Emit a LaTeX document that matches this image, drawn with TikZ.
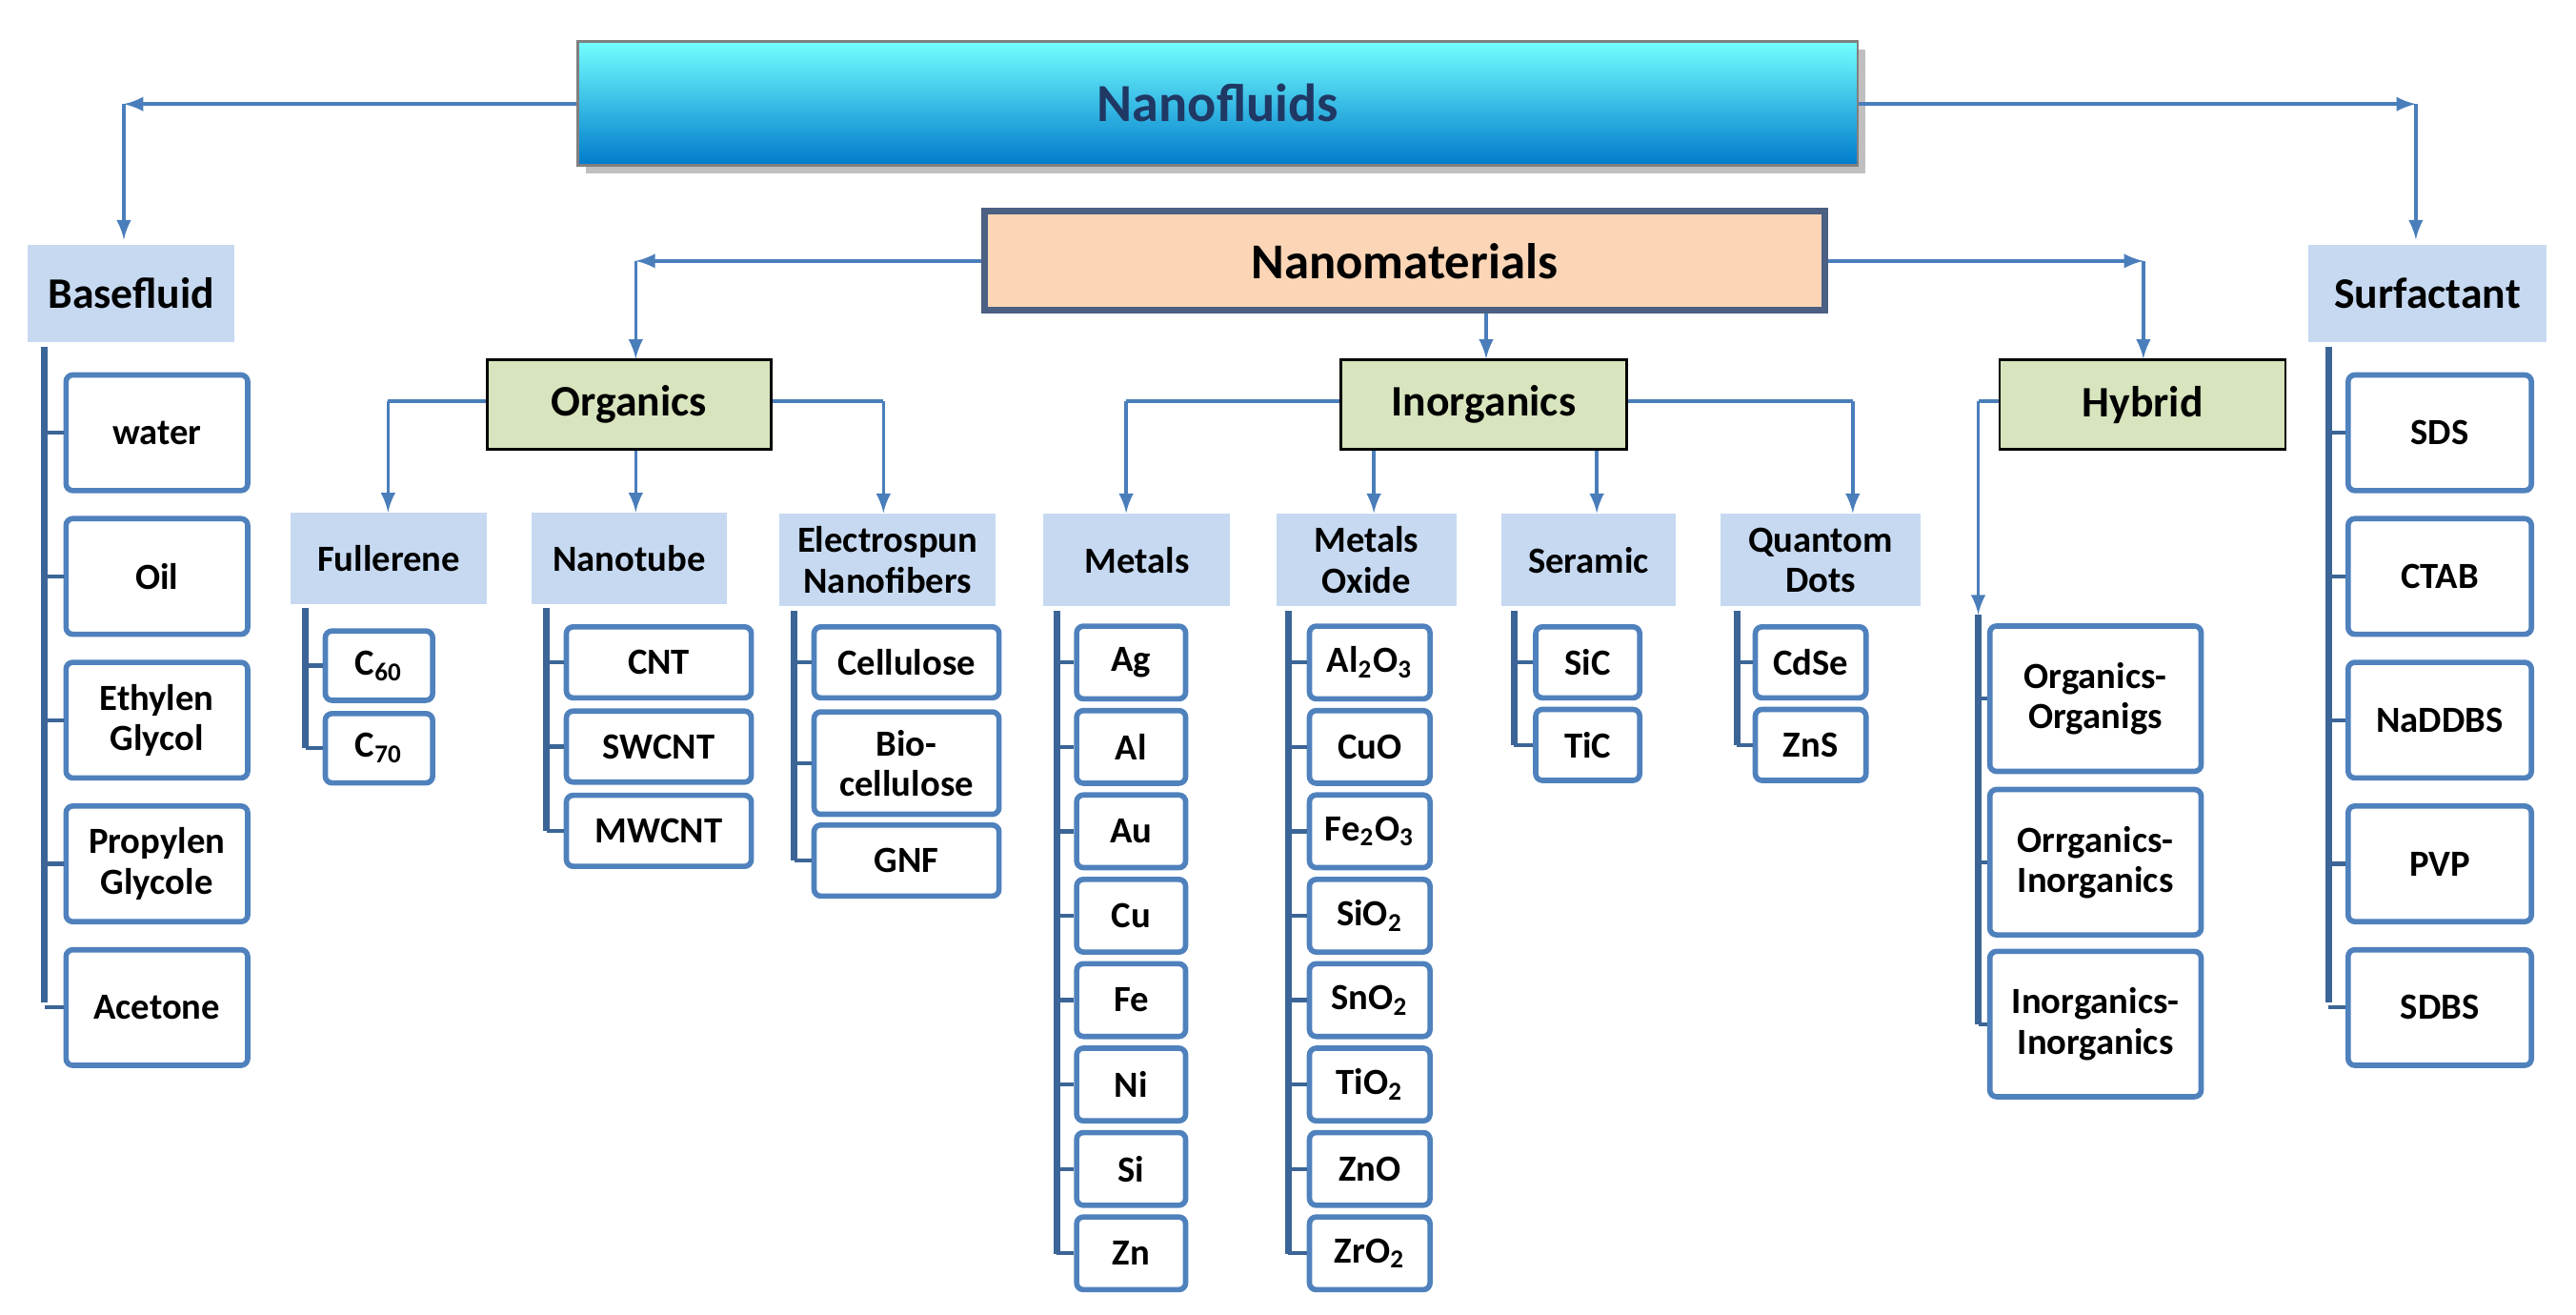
\documentclass[tikz,border=0pt]{standalone}
\usepackage{fontspec}
\setmainfont{Carlito}
\usetikzlibrary{shadows}
\definecolor{ln}{HTML}{4A7EBB}
\definecolor{bx}{HTML}{4F81BD}
\definecolor{lb}{HTML}{C6D9F1}
\definecolor{gr}{HTML}{D7E4BD}
\definecolor{pe}{HTML}{FBD5B5}
\definecolor{db}{HTML}{1F3864}
\newcommand\sbs[1]{\textsubscript{#1}}
\begin{document}
\begin{tikzpicture}[x=0.017333cm,y=-0.017333cm,font=\bfseries,
 W/.style={minimum width=#1*0.4932pt},
 H/.style={minimum height=#1*0.4932pt},
 item/.style={draw=bx,line width=1.6pt,fill=white,rounded corners=2pt,align=center,inner sep=0pt,font=\bfseries\fontsize{11}{12}\selectfont},
 cat/.style={fill=lb,align=center,inner sep=0pt,font=\bfseries\fontsize{11}{12}\selectfont},
 grp/.style={fill=gr,draw=black,line width=0.8pt,inner sep=0pt,font=\bfseries\fontsize{13}{13}\selectfont},
 arr/.style={draw=ln,line width=1pt,-latex},
 trunk/.style={draw=ln!80!black,line width=2pt},
 br/.style={draw=ln!80!black,line width=1.2pt}]
\useasboundingbox (0,0) rectangle (1560,796);
% top
\node[draw=gray,line width=0.8pt,top color=cyan!55!white,bottom color=cyan!60!blue!80!black,W=775,H=75,drop shadow,font=\bfseries\fontsize{16}{16}\selectfont,text=db] (nf) at (737.5,62.5) {Nanofluids};
\node[fill=lb,W=125,H=59,inner sep=0pt,font=\bfseries\fontsize{13}{13}\selectfont] (bf) at (79.5,177.5) {Basefluid};
\node[fill=lb,W=144,H=59,inner sep=0pt,font=\bfseries\fontsize{13}{13}\selectfont] (sf) at (1470,177.5) {Surfactant};
\coordinate (c1) at (75,63); \coordinate (c2) at (1463,63);
\draw[arr] (nf.west|-c1) -- (c1); \draw[arr] (c1) -- (75,145);
\draw[arr] (nf.east|-c2) -- (c2); \draw[arr] (c2) -- (1463,145);
\node[fill=pe,draw=db!80,line width=2pt,W=509,H=60,font=\bfseries\fontsize{15}{15}\selectfont] (nm) at (850.5,158) {Nanomaterials};
\node[grp,W=172,H=54] (org) at (381,245) {Organics};
\node[grp,W=173,H=54] (ino) at (898.5,245) {Inorganics};
\node[grp,W=173,H=54] (hyb) at (1297.5,245) {Hybrid};
\coordinate (c3) at (385,158); \coordinate (c4) at (1298,158);
\draw[arr] (nm.west|-c3) -- (c3); \draw[arr] (c3) -- (org.north-|c3);
\draw[arr] (nm.east|-c4) -- (c4); \draw[arr] (c4) -- (hyb.north-|c4);
\draw[arr] (nm.south-|900,0) -- (ino.north-|900,0);
% basefluid / surfactant lists
\foreach \t [count=\i] in {water,Oil,Ethylen\\Glycol,Propylen\\Glycole,Acetone}{
 \pgfmathsetmacro\yy{175+87*\i}
 \node[item,W=110,H=70] (b\i) at (95,\yy) {\t};
 \draw[br] (27,\yy) -- (b\i.west);}
\draw[trunk] (27,210) -- (27,607);
\foreach \t [count=\i] in {SDS,CTAB,NaDDBS,PVP,SDBS}{
 \pgfmathsetmacro\yy{175+87*\i}
 \node[item,W=111,H=70] (s\i) at (1477.5,\yy) {\t};
 \draw[br] (1410,\yy) -- (s\i.west);}
\draw[trunk] (1410,210) -- (1410,607);
% categories
\node[cat,W=119,H=55] (ful) at (235.5,338) {Fullerene};
\node[cat,W=118,H=55] (ntb) at (381,338) {Nanotube};
\node[cat,W=131,H=56] (ele) at (537.5,339) {Electrospun\\Nanofibers};
\node[cat,W=113,H=56] (met) at (688.5,339) {Metals};
\node[cat,W=109,H=56] (mox) at (827.5,339) {Metals\\Oxide};
\node[cat,W=106,H=56] (ser) at (962,339) {Seramic};
\node[cat,W=121,H=56] (qd) at (1102.5,339) {Quantom\\Dots};
\coordinate (o1) at (235,243); \coordinate (o2) at (535,243);
\draw[ln,line width=1pt] (org.west|-o1) -- (o1); \draw[arr] (o1) -- (ful.north-|o1);
\draw[arr] (org.south-|385,0) -- (ntb.north-|385,0);
\draw[ln,line width=1pt] (org.east|-o2) -- (o2); \draw[arr] (o2) -- (ele.north-|o2);
\coordinate (i1) at (682,243); \coordinate (i2) at (1122,243);
\draw[ln,line width=1pt] (ino.west|-i1) -- (i1); \draw[arr] (i1) -- (met.north-|i1);
\draw[arr] (ino.south-|832,0) -- (mox.north-|832,0);
\draw[arr] (ino.south-|967,0) -- (ser.north-|967,0);
\draw[ln,line width=1pt] (ino.east|-i2) -- (i2); \draw[arr] (i2) -- (qd.north-|i2);
% item lists
\foreach \t [count=\i] in {C\sbs{60},C\sbs{70}}{
 \pgfmathsetmacro\yy{353+50*\i}
 \node[item,W=65,H=42] (f\i) at (229.5,\yy) {\t};
 \draw[br] (185,\yy) -- (f\i.west);}
\draw[trunk] (185,368) -- (185,453);
\foreach \t [count=\i] in {CNT,SWCNT,MWCNT}{
 \pgfmathsetmacro\yy{350+51*\i}
 \node[item,W=112,H=43] (n\i) at (399,\yy) {\t};
 \draw[br] (331,\yy) -- (n\i.west);}
\draw[trunk] (331,368) -- (331,503);
\node[item,W=112,H=43] (e1) at (549,401) {Cellulose};
\node[item,W=112,H=62] (e2) at (549,462) {Bio-\\cellulose};
\node[item,W=112,H=43] (e3) at (549,521) {GNF};
\foreach \i/\yy in {1/401,2/462,3/521}{\draw[br] (481,\yy) -- (e\i.west);}
\draw[trunk] (481,370) -- (481,521);
\foreach \t [count=\i] in {Ag,Al,Au,Cu,Fe,Ni,Si,Zn}{
 \pgfmathsetmacro\yy{350+51.1*\i}
 \node[item,W=66,H=44] (m\i) at (685,\yy) {\t};
 \draw[br] (640,\yy) -- (m\i.west);}
\draw[trunk] (640,370) -- (640,759);
\foreach \t [count=\i] in {Al\sbs{2}O\sbs{3},CuO,Fe\sbs{2}O\sbs{3},SiO\sbs{2},SnO\sbs{2},TiO\sbs{2},ZnO,ZrO\sbs{2}}{
 \pgfmathsetmacro\yy{350+51.1*\i}
 \node[item,W=73,H=44] (x\i) at (829.5,\yy) {\t};
 \draw[br] (780,\yy) -- (x\i.west);}
\draw[trunk] (780,370) -- (780,759);
\foreach \t [count=\i] in {SiC,TiC}{
 \pgfmathsetmacro\yy{351+50*\i}
 \node[item,W=63,H=43] (r\i) at (961.5,\yy) {\t};
 \draw[br] (917,\yy) -- (r\i.west);}
\draw[trunk] (917,370) -- (917,451);
\foreach \t [count=\i] in {CdSe,ZnS}{
 \pgfmathsetmacro\yy{351+50*\i}
 \node[item,W=67,H=43] (q\i) at (1096.5,\yy) {\t};
 \draw[br] (1052,\yy) -- (q\i.west);}
\draw[trunk] (1052,370) -- (1052,451);
% hybrid
\coordinate (h1) at (1198,243); \coordinate (h2) at (1198,372);
\draw[ln,line width=1pt] (hyb.west|-h1) -- (h1); \draw[arr] (h1) -- (h2);
\node[item,W=128,H=88] (y1) at (1269,423) {Organics-\\Organigs};
\node[item,W=128,H=88] (y2) at (1269,522) {Orrganics-\\Inorganics};
\node[item,W=128,H=88] (y3) at (1269,620) {Inorganics-\\Inorganics};
\foreach \i/\yy in {1/423,2/522,3/620}{\draw[br] (1198,\yy) -- (y\i.west);}
\draw[trunk] (h2) -- (1198,620);
\end{tikzpicture}
\end{document}
